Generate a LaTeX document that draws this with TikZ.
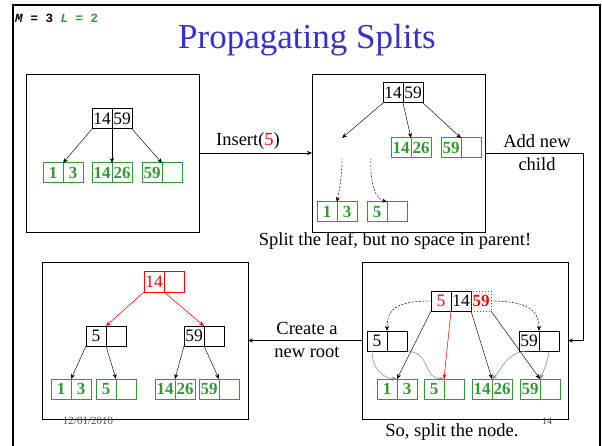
\documentclass[tikz,border=0pt]{standalone}
\usepackage{fontspec}
\setmainfont{Liberation Serif}
\newfontfamily\monof{Liberation Mono}
\usetikzlibrary{arrows.meta}
\definecolor{ttlblue}{RGB}{51,51,204}
\definecolor{lgreen}{RGB}{51,153,51}
\definecolor{ptrgray}{RGB}{135,135,135}
\begin{document}
\begin{tikzpicture}[x=1pt,y=-1pt,
  kcell/.style={draw=black, line width=1pt, minimum width=20pt, minimum height=20pt, inner sep=0pt, outer sep=0pt, font=\fontsize{17.5}{17.5}\selectfont},
  lcell/.style={draw=lgreen, line width=1pt, text=lgreen, minimum width=20pt, minimum height=20pt, inner sep=0pt, outer sep=0pt, font=\bfseries\fontsize{17}{17}\selectfont},
  panel/.style={draw=black, line width=0.8pt, inner sep=0pt, outer sep=0pt, anchor=north west},
  ptr/.style={-{Stealth[length=5pt,width=4pt]}, line width=0.45pt},
  dptr/.style={ptr, dashed, dash pattern=on 2pt off 1.5pt},
  gptr/.style={ptr, draw=ptrgray, line width=0.55pt},
  rptr/.style={ptr, draw=red, fill=red},
  lbl/.style={font=\fontsize{18.5}{23}\selectfont, align=center, inner sep=0pt}
]
\useasboundingbox (0,0) rectangle (602,446);
% slide frame
\draw[line width=2pt] (13,446) -- (13,5) -- (600,5) -- (600,446);
\node[anchor=west, inner sep=0pt, font=\monof\bfseries\fontsize{12.5}{13}\selectfont] (ml) at (15,18) {\textit{M} = 3 \textcolor{lgreen}{\textit{L} = 2}};
\node[anchor=base, inner sep=0pt, text=ttlblue, font=\fontsize{35}{35}\selectfont] (title) at (307,49) {Propagating Splits};

% panels
\node[panel, minimum width=173pt, minimum height=158pt] (b1) at (26,74) {};
\node[panel, minimum width=173pt, minimum height=158pt] (b2) at (312,74) {};
\node[panel, minimum width=206pt, minimum height=157pt] (b3) at (42,262) {};
\node[panel, minimum width=206pt, minimum height=157pt] (b4) at (362,262) {};

% connectors between panels
\draw[ptr] (b1.east) -- (b2.west);
\coordinate (c1) at (583,153);
\draw[ptr] (b2.east) -- (c1) |- (b4.east);
\draw[ptr] (b4.west) -- (b3.east);

% labels
\node[lbl] (ins) at (248,141) {Insert(\textcolor{red}{5})};
\node[lbl] (addnew) at (537,153) {Add new\\child};
\node[lbl] (create) at (307,340) {Create a\\new root};
\node[lbl] (split1) at (395,241) {Split the leaf, but no space in parent!};
\node[lbl] (split2) at (452,432) {So, split the node.};
\node[inner sep=0pt, text=black!70, font=\fontsize{11}{11}\selectfont] (date) at (88,421) {12/01/2010};
\node[inner sep=0pt, text=black!70, font=\fontsize{10}{10}\selectfont] (pgno) at (547,421) {14};

% ---- panel 1
\node[kcell] (p1a) at (102,119) {14};
\node[kcell] (p1b) at (122,119) {59};
\node[lcell] (p1l1a) at (53,173) {1};
\node[lcell] (p1l1b) at (73,173) {3};
\node[lcell] (p1l2a) at (102,173) {14};
\node[lcell] (p1l2b) at (122,173) {26};
\node[lcell] (p1l3a) at (152,173) {59};
\node[lcell] (p1l3b) at (172,173) {};
\draw[ptr] (p1a.south west) -- (p1l1b.north west);
\draw[ptr] (p1a.south east) -- (p1l2b.north west);
\draw[ptr] (p1b.south east) -- (p1l3b.north west);

% ---- panel 2
\node[kcell] (p2a) at (393,93) {14};
\node[kcell] (p2b) at (413,93) {59};
\node[lcell] (p2l2a) at (401,148) {14};
\node[lcell] (p2l2b) at (421,148) {26};
\node[lcell] (p2l3a) at (451,148) {59};
\node[lcell] (p2l3b) at (471,148) {};
\node[lcell] (p2l1a) at (327,212) {1};
\node[lcell] (p2l1b) at (347,212) {3};
\node[lcell] (p2l4a) at (377,212) {5};
\node[lcell] (p2l4b) at (397,212) {};
\coordinate (p2free) at (342,138);
\coordinate (p2d1) at (342,158);
\coordinate (p2d2) at (371,158);
\draw[ptr] (p2a.south west) -- (p2free);
\draw[ptr] (p2a.south east) -- (p2l2b.north west);
\draw[ptr] (p2b.south east) -- (p2l3b.north west);
\draw[dptr] (p2d1) .. controls (342,180) and (339,190) .. (p2l1b.north west);
\draw[dptr] (p2d2) .. controls (370,185) and (375,198) .. (p2l4a.north east);

% ---- panel 3 (new root)
\node[kcell, draw=red, text=red] (p3ra) at (154,282) {14};
\node[kcell, draw=red] (p3rb) at (174,282) {};
\node[kcell] (p3la) at (96,336) {5};
\node[kcell] (p3lb) at (116,336) {};
\node[kcell] (p3ra2) at (194,336) {59};
\node[kcell] (p3rb2) at (214,336) {};
\node[lcell] (p3l1a) at (61,389) {1};
\node[lcell] (p3l1b) at (81,389) {3};
\node[lcell] (p3l2a) at (106,389) {5};
\node[lcell] (p3l2b) at (126,389) {};
\node[lcell] (p3l3a) at (165,389) {14};
\node[lcell] (p3l3b) at (185,389) {26};
\node[lcell] (p3l4a) at (209,389) {59};
\node[lcell] (p3l4b) at (229,389) {};
\draw[rptr] (p3ra.south west) -- (p3lb.north west);
\draw[rptr] (p3ra.south east) -- (p3rb2.north west);
\draw[ptr] (p3la.south west) -- (p3l1b.north west);
\draw[ptr] (p3la.south east) -- (p3l2b.north west);
\draw[ptr] (p3ra2.south west) -- (p3l3b.north west);
\draw[ptr] (p3ra2.south east) -- (p3l4b.north west);

% ---- panel 4 (split the node)
\node[kcell, text=red] (p4a) at (441,301) {5};
\node[kcell] (p4b) at (461,301) {14};
\node[kcell, draw=red, dotted, text=red, font=\bfseries\fontsize{17}{17}\selectfont] (p4c) at (481,301) {59};
\node[kcell] (p4la) at (377,341) {5};
\node[kcell] (p4lb) at (397,341) {};
\node[kcell] (p4ra) at (529,341) {59};
\node[kcell] (p4rb) at (549,341) {};
\node[lcell] (p4l1a) at (387,389) {1};
\node[lcell] (p4l1b) at (407,389) {3};
\node[lcell] (p4l2a) at (434,389) {5};
\node[lcell] (p4l2b) at (454,389) {};
\node[lcell] (p4l3a) at (482,389) {14};
\node[lcell] (p4l3b) at (502,389) {26};
\node[lcell] (p4l4a) at (530,389) {59};
\node[lcell] (p4l4b) at (550,389) {};
\draw[ptr] (p4a.south west) -- (p4l1b.north west);
\draw[rptr] (p4a.south east) -- (p4l2b.north west);
\draw[ptr] (p4b.south east) -- (p4l3b.north west);
\draw[ptr] (p4c.south east) -- (p4l4b.north west);
\draw[dptr] (p4a.west) .. controls (395,301) and (387,310) .. (p4la.north east);
\draw[dptr] (p4c.east) .. controls (527,301) and (539,310) .. (p4ra.north east);
\draw[gptr] (p4la.south west) ++(5,0) .. controls (372,368) and (382,378) .. (p4l1b.north west);
\draw[gptr] (p4lb.south east) .. controls (432,353) and (422,378) .. (p4l2b.north west);
\draw[gptr] (p4ra.south) .. controls (506,351) and (502,370) .. (p4l3b.north west);
\draw[gptr] (p4rb.south) .. controls (548,362) and (543,372) .. (p4l4b.north west);
\end{tikzpicture}
\end{document}
